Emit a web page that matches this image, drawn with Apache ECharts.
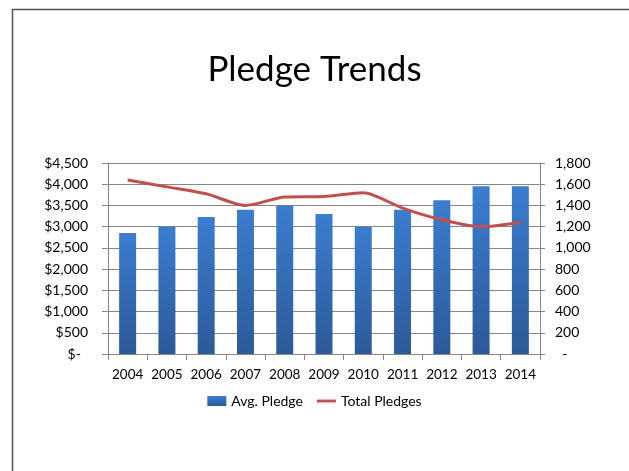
<!DOCTYPE html>
<html><head><meta charset="utf-8">
<script src="https://cdn.jsdelivr.net/npm/echarts@6/dist/echarts.min.js"></script>
<style>html,body{margin:0;padding:0;background:#fff}#c{width:629px;height:471px}</style>
</head><body><div id="c"></div>
<script>
const categories = ['2004','2005','2006','2007','2008','2009','2010','2011','2012','2013','2014'];
const avgPledge = [2850, 3000, 3225, 3400, 3500, 3300, 3000, 3400, 3625, 3950, 3950];
const totalPledges = [1640, 1575, 1510, 1400, 1480, 1485, 1520, 1375, 1265, 1200, 1240];
const leftTicks = {min: 0, max: 4500, interval: 500};
const rightTicks = {min: 0, max: 1800, interval: 200};

const FONT = 'Lato';
const chart = echarts.init(document.getElementById('c'), null, {renderer: 'canvas'});
function fmtNum(v){ return v.toString().replace(/\B(?=(\d{3})+(?!\d))/g, ','); }
chart.setOption({
  animation: false,
  backgroundColor: '#fff',
  textStyle: {fontFamily: FONT},
  graphic: [{
    type: 'rect', left: 10, top: 7, shape: {width: 700, height: 600},
    style: {fill: 'none', stroke: '#555', lineWidth: 1.5}, silent: true
  }],
  title: {
    text: 'Pledge Trends', left: 'center', top: 47,
    textStyle: {fontFamily: FONT, fontSize: 35, fontWeight: 'normal', color: '#000'}
  },
  legend: {
    top: 389, left: 'center', itemGap: 14, itemWidth: 19, itemHeight: 10,
    textStyle: {fontFamily: FONT, fontSize: 14, color: '#000'},
    data: [{name: 'Avg. Pledge', icon: 'rect'},
           {name: 'Total Pledges', icon: 'path://M0,0L20,0L20,3L0,3Z'}]
  },
  grid: {left: 108, right: 89, top: 163, bottom: 117, containLabel: false},
  xAxis: {
    type: 'category', data: categories,
    axisLine: {lineStyle: {color: '#868686'}},
    axisTick: {show: true, length: 6, interval: 0, lineStyle: {color: '#868686'}},
    axisLabel: {color: '#000', fontFamily: FONT, fontSize: 13.5, margin: 14, interval: 0}
  },
  yAxis: [{
    type: 'value', min: leftTicks.min, max: leftTicks.max, interval: leftTicks.interval,
    axisLine: {show: true, lineStyle: {color: '#868686'}},
    axisTick: {show: true, length: 6, inside: false, lineStyle: {color: '#868686'}},
    splitLine: {lineStyle: {color: '#868686'}},
    axisLabel: {color: '#000', fontFamily: FONT, fontSize: 14, margin: 20,
      formatter: v => v === 0 ? '$-  ' : '$' + fmtNum(v)}
  }, {
    type: 'value', min: rightTicks.min, max: rightTicks.max, interval: rightTicks.interval,
    axisLine: {show: true, lineStyle: {color: '#868686'}},
    axisTick: {show: true, length: 5, lineStyle: {color: '#868686'}},
    splitLine: {show: false},
    axisLabel: {color: '#000', fontFamily: FONT, fontSize: 14, margin: 15,
      formatter: v => v === 0 ? '  -' : fmtNum(v)}
  }],
  series: [{
    name: 'Avg. Pledge', type: 'bar', data: avgPledge, yAxisIndex: 0, barWidth: 17,
    itemStyle: {color: new echarts.graphic.LinearGradient(0, 0, 0, 1, [
      {offset: 0, color: '#3b7dd0'}, {offset: 1, color: '#2d5a98'}])}
  }, {
    name: 'Total Pledges', type: 'line', data: totalPledges, yAxisIndex: 1,
    smooth: 0.25, symbol: 'none',
    lineStyle: {color: '#c0504d', width: 3},
    itemStyle: {color: '#c0504d'}
  }]
});
</script></body></html>
